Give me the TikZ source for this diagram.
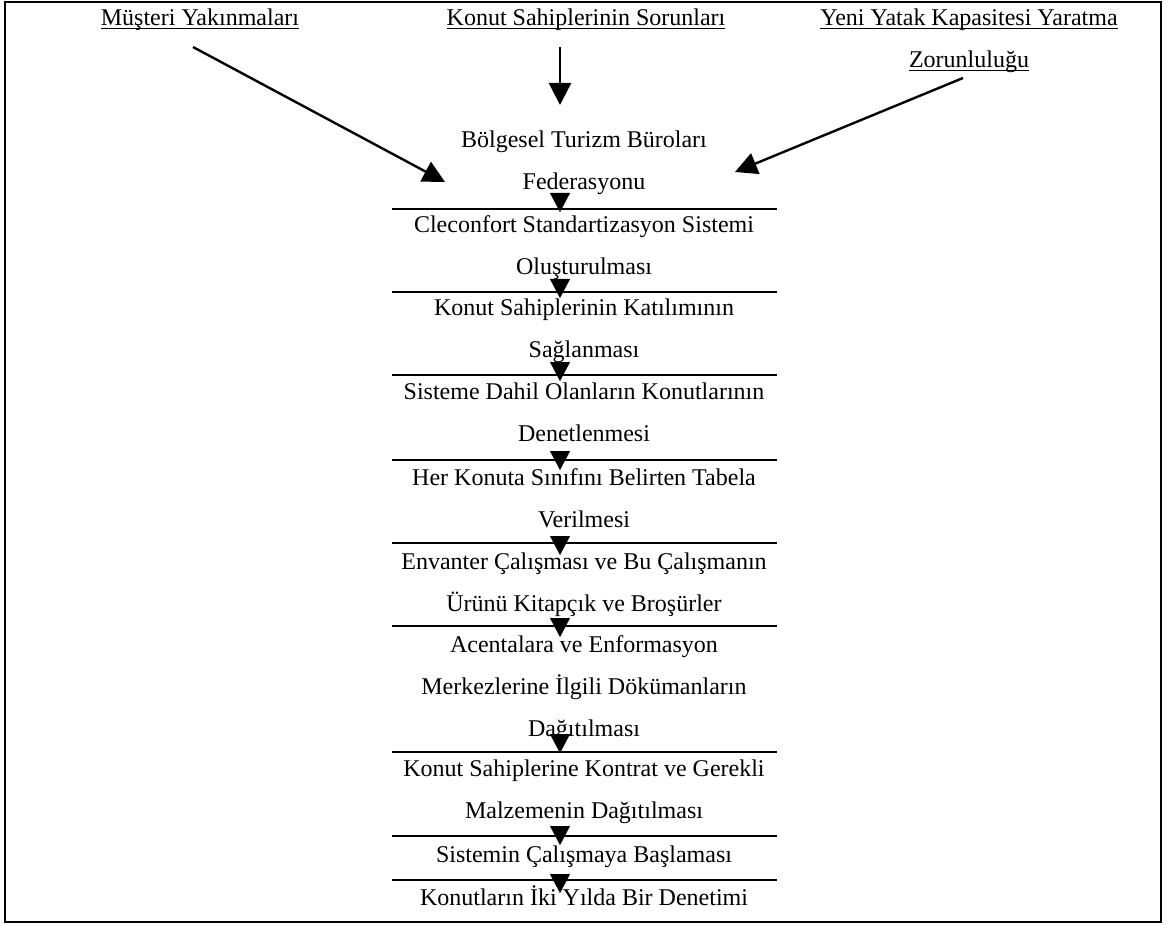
\documentclass[tikz,border=0pt]{standalone}
\usepackage{fontspec}
\setmainfont{Liberation Serif}
\usetikzlibrary{arrows.meta}
\newsavebox\myulbox
\newcommand\myul[1]{\sbox\myulbox{#1}\rlap{\rule[-3.8pt]{\wd\myulbox}{1.4pt}}\usebox\myulbox}
\newcommand\mystrut{\rule{0pt}{24pt}}
\begin{document}
\begin{tikzpicture}[x=1pt,y=-1pt,
  txt/.style={font=\fontsize{24}{42}\selectfont, align=center, inner sep=0pt, anchor=north},
  rulel/.style={line width=1.5pt},
  tri/.style={-{Triangle[width=20pt,length=19pt]}, line width=0.1pt},
  big/.style={line width=2.4pt, -{Triangle[width=22pt,length=22pt]}},
  frame/.style={line width=1.6pt}]
\useasboundingbox (0,0) rectangle (1167,925);
\draw[frame] (5,2) rectangle (1161,922);

% top labels
\node[txt] (l1) at (200,1) {\mystrut\myul{Müşteri Yakınmaları}};
\node[txt] (l2) at (586,1) {\mystrut\myul{Konut Sahiplerinin Sorunları}};
\node[txt] (l3) at (969,1) {\mystrut\myul{Yeni Yatak Kapasitesi Yaratma}\\\myul{Zorunluluğu}};

% blocks
\node[txt] (bA) at (584,123) {\mystrut Bölgesel Turizm Büroları\\Federasyonu};
\node[txt] (bB) at (584,208) {\mystrut Cleconfort Standartizasyon Sistemi\\Oluşturulması};
\node[txt] (bC) at (584,291) {\mystrut Konut Sahiplerinin Katılımının\\Sağlanması};
\node[txt] (bD) at (584,375) {\mystrut Sisteme Dahil Olanların Konutlarının\\Denetlenmesi};
\node[txt] (bE) at (584,461) {\mystrut Her Konuta Sınıfını Belirten Tabela\\Verilmesi};
\node[txt] (bF) at (584,545) {\mystrut Envanter Çalışması ve Bu Çalışmanın\\Ürünü Kitapçık ve Broşürler};
\node[txt] (bG) at (584,628) {\mystrut Acentalara ve Enformasyon\\Merkezlerine İlgili Dökümanların\\Dağıtılması};
\node[txt] (bH) at (584,752) {\mystrut Konut Sahiplerine Kontrat ve Gerekli\\Malzemenin Dağıtılması};
\node[txt] (bI) at (584,838) {\mystrut Sistemin Çalışmaya Başlaması};
\node[txt] (bJ) at (584,881) {\mystrut Konutların İki Yılda Bir Denetimi};

% separator rules
\foreach \yy in {209,292,375,460,543,626,752,836,880}
  \draw[rulel] (392,\yy) -- (777,\yy);

% chain arrows (tips)
\foreach \n/\yy in {1/212,2/298,3/381,4/470,5/555,6/637,7/753,8/845,9/893}
  \coordinate (t\n) at (560,\yy);
\foreach \n in {1,...,9}
  \draw[tri] ([yshift=19pt]t\n) -- (t\n);

% top arrows
\coordinate (s1) at (193,47);  \coordinate (e1) at (445,182);
\coordinate (s2) at (560,47);  \coordinate (e2) at (560,105);
\coordinate (s3) at (963,78);  \coordinate (e3) at (735,172);
\draw[big] (s1) -- (e1);
\draw[big] (s2) -- (e2);
\draw[big] (s3) -- (e3);
\end{tikzpicture}
\end{document}
